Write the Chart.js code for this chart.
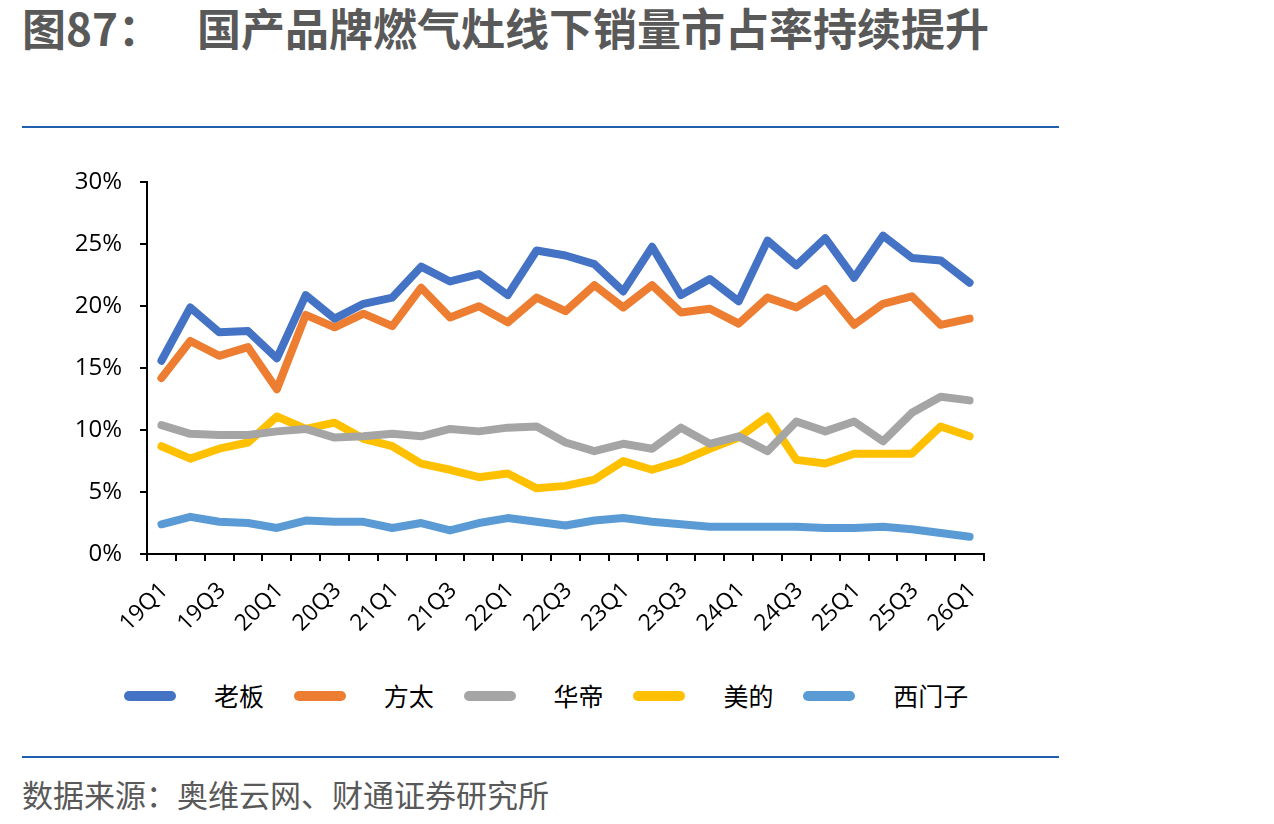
<!DOCTYPE html>
<html><head><meta charset="utf-8">
<script src="https://cdn.jsdelivr.net/npm/chart.js@4"></script>
<style>
html,body{margin:0;padding:0;background:#fff;width:1274px;height:824px;overflow:hidden;font-family:'Noto Sans CJK SC',sans-serif;}
.abs{position:absolute;white-space:nowrap;line-height:1;}
#t1{left:22px;top:5px;font-size:44px;font-weight:bold;color:#595959;}
#t2{left:197px;top:5px;font-size:44px;font-weight:bold;color:#595959;}
.rule{position:absolute;left:22px;width:1037px;height:2px;background:#1F5FAD;}
#src{left:22px;top:778px;font-size:31px;color:#595959;}
#wrap{position:absolute;left:0;top:150px;width:1060px;height:510px;}
.lg{position:absolute;top:680px;height:32px;}
.lg .sw{position:absolute;left:0;top:11px;width:52px;height:10px;border-radius:5px;}
.lg .tx{position:absolute;left:90px;top:3px;font-size:25px;line-height:1;color:#000;white-space:nowrap;}
</style></head>
<body>
<div id="t1" class="abs">图87：</div>
<div id="t2" class="abs">国产品牌燃气灶线下销量市占率持续提升</div>
<div class="rule" style="top:126px"></div>
<div id="wrap"><canvas id="c"></canvas></div>
<div id="legend"></div>
<div class="rule" style="top:756px"></div>
<div id="src" class="abs">数据来源：奥维云网、财通证券研究所</div>
<script>
const categories = ['19Q1','19Q2','19Q3','19Q4','20Q1','20Q2','20Q3','20Q4','21Q1','21Q2','21Q3','21Q4','22Q1','22Q2','22Q3','22Q4','23Q1','23Q2','23Q3','23Q4','24Q1','24Q2','24Q3','24Q4','25Q1','25Q2','25Q3','25Q4','26Q1'];
const seriesNames = ['老板','方太','华帝','美的','西门子'];
const laoban  = [15.6,19.9,17.9,18.0,15.8,20.9,19.0,20.2,20.7,23.2,22.0,22.6,20.9,24.5,24.1,23.4,21.2,24.8,20.9,22.2,20.4,25.3,23.3,25.5,22.3,25.7,23.9,23.7,21.9];
const fangtai = [14.2,17.2,16.0,16.7,13.3,19.3,18.3,19.4,18.4,21.5,19.1,20.0,18.7,20.7,19.6,21.7,19.9,21.7,19.5,19.8,18.6,20.7,19.9,21.4,18.5,20.2,20.8,18.5,19.0];
const huadi   = [10.4,9.7,9.6,9.6,9.9,10.1,9.4,9.5,9.7,9.5,10.1,9.9,10.2,10.3,9.0,8.3,8.9,8.5,10.2,8.9,9.5,8.3,10.7,9.9,10.7,9.1,11.4,12.7,12.4];
const midea   = [8.7,7.7,8.5,9.0,11.1,10.1,10.6,9.3,8.7,7.3,6.8,6.2,6.5,5.3,5.5,6.0,7.5,6.8,7.5,8.5,9.4,11.1,7.6,7.3,8.1,8.1,8.1,10.3,9.5];
const siemens = [2.4,3.0,2.6,2.5,2.1,2.7,2.6,2.6,2.1,2.5,1.9,2.5,2.9,2.6,2.3,2.7,2.9,2.6,2.4,2.2,2.2,2.2,2.2,2.1,2.1,2.2,2.0,1.7,1.4];
const yTicks = [0,5,10,15,20,25,30];
const colors = ['#4472C4','#ED7D31','#A5A5A5','#FFC000','#5B9BD5'];
const allSeries = [laoban,fangtai,huadi,midea,siemens];

const lfont = "'Open Sans','Noto Sans CJK SC',sans-serif";
const datasets = allSeries.map((d,i)=>({
  label: seriesNames[i], data: d, borderColor: colors[i], backgroundColor: colors[i],
  borderWidth: 8, pointRadius: 0, tension: 0, borderJoinStyle: 'round', borderCapStyle: 'round', fill:false
}));

const lg = document.getElementById('legend');
seriesNames.forEach((n,i)=>{
  const d = document.createElement('div'); d.className='lg'; d.style.left=(124+i*169.8)+'px';
  d.innerHTML = '<div class="sw" style="background:'+colors[i]+'"></div><div class="tx">'+n+'</div>';
  lg.appendChild(d);
});

new Chart(document.getElementById('c'), {
  type: 'line',
  data: { labels: categories, datasets: datasets },
  options: {
    responsive: true, maintainAspectRatio: false, animation: false,
    layout: { padding: { top: 30, right: 76, left: 0, bottom: 0 } },
    plugins: { legend: { display: false }, tooltip: { enabled: false } },
    scales: {
      x: {
        type: 'category', offset: true,
        border: { display: true, color: '#000', width: 2 },
        grid: { display: true, offset: true, drawOnChartArea: false, drawTicks: true, tickLength: 7, color: '#000', lineWidth: 2 },
        ticks: {
          autoSkip: false, minRotation: 45, maxRotation: 45, color: '#000', padding: 16, labelOffset: 3,
          font: { family: lfont, size: 23 },
          callback: function(v, i){ return i % 2 === 0 ? categories[i] : ''; }
        },
        afterFit: s => { s.height = 106; }
      },
      y: {
        min: 0, max: 30,
        afterBuildTicks: s => { s.ticks = yTicks.map(v=>({value:v})); },
        border: { display: true, color: '#000', width: 2 },
        grid: { display: true, drawOnChartArea: false, drawTicks: true, tickLength: 7, color: '#000', lineWidth: 2 },
        ticks: { color: '#000', padding: 18, font: { family: lfont, size: 24 }, callback: v => v + '%' },
        afterFit: s => { s.width = 147; }
      }
    }
  }
});
</script>
</body></html>
